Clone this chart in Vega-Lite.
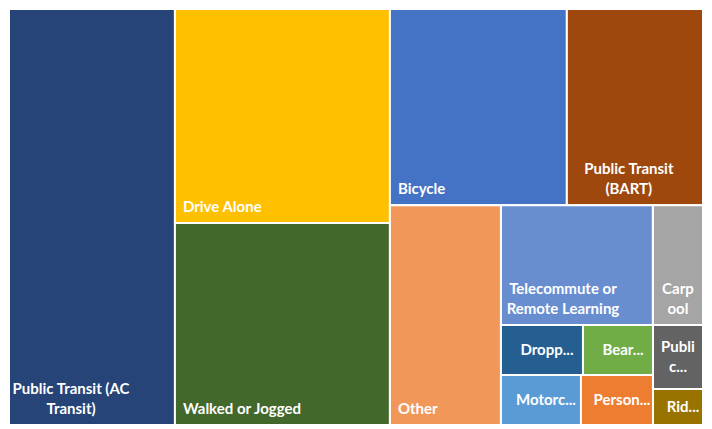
{
  "$schema": "https://vega.github.io/schema/vega-lite/v6.json",
  "width": 694,
  "height": 416,
  "padding": {"left": 8, "top": 8, "right": 10, "bottom": 5},
  "background": "white",
  "config": {"view": {"stroke": null}, "text": {"color": "white", "font": "Lato", "fontWeight": "bold", "fontSize": 15, "lineHeight": 20, "baseline": "alphabetic"}},
  "data": {
    "values": [
      {"mode": "Public Transit (AC Transit)", "label": ["Public Transit (AC", "Transit)"], "count": 690, "p1": "A", "p2": "AC", "p3": "AC", "p4": "AC", "p5": "AC", "p6": "AC", "p7": "AC"},
      {"mode": "Drive Alone", "label": ["Drive Alone"], "count": 460, "p1": "B", "p2": "Drive", "p3": "Drive", "p4": "Drive", "p5": "Drive", "p6": "Drive", "p7": "Drive"},
      {"mode": "Walked or Jogged", "label": ["Walked or Jogged"], "count": 434, "p1": "B", "p2": "Walked", "p3": "Walked", "p4": "Walked", "p5": "Walked", "p6": "Walked", "p7": "Walked"},
      {"mode": "Bicycle", "label": ["Bicycle"], "count": 347, "p1": "C", "p2": "C1", "p3": "Bicycle", "p4": "Bicycle", "p5": "Bicycle", "p6": "Bicycle", "p7": "Bicycle"},
      {"mode": "Public Transit (BART)", "label": ["Public Transit", "(BART)"], "count": 267, "p1": "C", "p2": "C1", "p3": "BART", "p4": "BART", "p5": "BART", "p6": "BART", "p7": "BART"},
      {"mode": "Other", "label": ["Other"], "count": 244, "p1": "C", "p2": "C2", "p3": "Other", "p4": "Other", "p5": "Other", "p6": "Other", "p7": "Other"},
      {"mode": "Telecommute or Remote Learning", "label": ["Telecommute or", "Remote Learning"], "count": 182, "p1": "C", "p2": "C2", "p3": "D", "p4": "D1", "p5": "Tele", "p6": "Tele", "p7": "Tele"},
      {"mode": "Carpool", "label": ["Carp", "ool"], "count": 60, "p1": "C", "p2": "C2", "p3": "D", "p4": "D1", "p5": "Carpool", "p6": "Carpool", "p7": "Carpool"},
      {"mode": "Dropp...", "label": ["Dropp..."], "count": 41, "p1": "C", "p2": "C2", "p3": "D", "p4": "D2", "p5": "E", "p6": "E1", "p7": "Dropp"},
      {"mode": "Bear...", "label": ["Bear..."], "count": 35, "p1": "C", "p2": "C2", "p3": "D", "p4": "D2", "p5": "E", "p6": "E1", "p7": "Bear"},
      {"mode": "Motorc...", "label": ["Motorc..."], "count": 40, "p1": "C", "p2": "C2", "p3": "D", "p4": "D2", "p5": "E", "p6": "E2", "p7": "Motorc"},
      {"mode": "Person...", "label": ["Person..."], "count": 36, "p1": "C", "p2": "C2", "p3": "D", "p4": "D2", "p5": "E", "p6": "E2", "p7": "Person"},
      {"mode": "Publi c...", "label": ["Publi", "c..."], "count": 32, "p1": "C", "p2": "C2", "p3": "D", "p4": "D2", "p5": "F", "p6": "Publi", "p7": "Publi"},
      {"mode": "Rid...", "label": ["Rid..."], "count": 18, "p1": "C", "p2": "C2", "p3": "D", "p4": "D2", "p5": "F", "p6": "Rid", "p7": "Rid"}
    ]
  },
  "transform": [
    {"joinaggregate": [{"op": "max", "field": "count", "as": "m1"}], "groupby": ["p1"]},
    {"stack": "count", "groupby": [], "sort": [{"field": "m1", "order": "descending"}, {"field": "p1", "order": "ascending"}], "offset": "normalize", "as": ["s1", "e1"]},
    {"joinaggregate": [{"op": "min", "field": "s1", "as": "a1"}, {"op": "max", "field": "e1", "as": "b1"}], "groupby": ["p1"]},

    {"joinaggregate": [{"op": "max", "field": "count", "as": "m2"}], "groupby": ["p1", "p2"]},
    {"stack": "count", "groupby": ["p1"], "sort": [{"field": "m2", "order": "descending"}, {"field": "p2", "order": "ascending"}], "offset": "normalize", "as": ["s2", "e2"]},
    {"joinaggregate": [{"op": "min", "field": "s2", "as": "a2"}, {"op": "max", "field": "e2", "as": "b2"}], "groupby": ["p1", "p2"]},

    {"joinaggregate": [{"op": "max", "field": "count", "as": "m3"}], "groupby": ["p1", "p2", "p3"]},
    {"stack": "count", "groupby": ["p1", "p2"], "sort": [{"field": "m3", "order": "descending"}, {"field": "p3", "order": "ascending"}], "offset": "normalize", "as": ["s3", "e3"]},
    {"joinaggregate": [{"op": "min", "field": "s3", "as": "a3"}, {"op": "max", "field": "e3", "as": "b3"}], "groupby": ["p1", "p2", "p3"]},

    {"joinaggregate": [{"op": "max", "field": "count", "as": "m4"}], "groupby": ["p1", "p2", "p3", "p4"]},
    {"stack": "count", "groupby": ["p1", "p2", "p3"], "sort": [{"field": "m4", "order": "descending"}, {"field": "p4", "order": "ascending"}], "offset": "normalize", "as": ["s4", "e4"]},
    {"joinaggregate": [{"op": "min", "field": "s4", "as": "a4"}, {"op": "max", "field": "e4", "as": "b4"}], "groupby": ["p1", "p2", "p3", "p4"]},

    {"joinaggregate": [{"op": "max", "field": "count", "as": "m5"}], "groupby": ["p1", "p2", "p3", "p4", "p5"]},
    {"stack": "count", "groupby": ["p1", "p2", "p3", "p4"], "sort": [{"field": "m5", "order": "descending"}, {"field": "p5", "order": "ascending"}], "offset": "normalize", "as": ["s5", "e5"]},
    {"joinaggregate": [{"op": "min", "field": "s5", "as": "a5"}, {"op": "max", "field": "e5", "as": "b5"}], "groupby": ["p1", "p2", "p3", "p4", "p5"]},

    {"joinaggregate": [{"op": "max", "field": "count", "as": "m6"}], "groupby": ["p1", "p2", "p3", "p4", "p5", "p6"]},
    {"stack": "count", "groupby": ["p1", "p2", "p3", "p4", "p5"], "sort": [{"field": "m6", "order": "descending"}, {"field": "p6", "order": "ascending"}], "offset": "normalize", "as": ["s6", "e6"]},
    {"joinaggregate": [{"op": "min", "field": "s6", "as": "a6"}, {"op": "max", "field": "e6", "as": "b6"}], "groupby": ["p1", "p2", "p3", "p4", "p5", "p6"]},

    {"joinaggregate": [{"op": "max", "field": "count", "as": "m7"}], "groupby": ["p1", "p2", "p3", "p4", "p5", "p6", "p7"]},
    {"stack": "count", "groupby": ["p1", "p2", "p3", "p4", "p5", "p6"], "sort": [{"field": "m7", "order": "descending"}, {"field": "p7", "order": "ascending"}], "offset": "normalize", "as": ["s7", "e7"]},
    {"joinaggregate": [{"op": "min", "field": "s7", "as": "a7"}, {"op": "max", "field": "e7", "as": "b7"}], "groupby": ["p1", "p2", "p3", "p4", "p5", "p6", "p7"]},

    {"calculate": "datum.a1 + (datum.b1 - datum.a1) * (datum.a3 + (datum.b3 - datum.a3) * (datum.a5 + (datum.b5 - datum.a5) * datum.a7))", "as": "X0"},
    {"calculate": "datum.a1 + (datum.b1 - datum.a1) * (datum.a3 + (datum.b3 - datum.a3) * (datum.a5 + (datum.b5 - datum.a5) * datum.b7))", "as": "X1"},
    {"calculate": "datum.a2 + (datum.b2 - datum.a2) * (datum.a4 + (datum.b4 - datum.a4) * datum.a6)", "as": "Y0"},
    {"calculate": "datum.a2 + (datum.b2 - datum.a2) * (datum.a4 + (datum.b4 - datum.a4) * datum.b6)", "as": "Y1"},
    {"calculate": "(datum.X0 + datum.X1) / 2", "as": "Xm"},
    {"calculate": "(datum.Y0 + datum.Y1) / 2", "as": "Ym"},
    {"calculate": "(datum.X1 - datum.X0) < 0.13", "as": "narrow"},
    {"calculate": "(datum.Y1 - datum.Y0) < 0.17", "as": "short"},
    {"calculate": "length(datum.label)", "as": "nlines"}
  ],
  "encoding": {
    "x": {"field": "X0", "type": "quantitative", "scale": {"domain": [0, 1], "nice": false, "zero": false}, "axis": null},
    "y": {"field": "Y1", "type": "quantitative", "scale": {"domain": [0, 1], "nice": false, "zero": false, "reverse": true}, "axis": null}
  },
  "layer": [
    {
      "mark": {"type": "rect", "stroke": "white", "strokeWidth": 2},
      "encoding": {
        "x2": {"field": "X1"},
        "y": {"field": "Y0", "type": "quantitative", "scale": {"domain": [0, 1], "nice": false, "zero": false, "reverse": true}, "axis": null},
        "y2": {"field": "Y1"},
        "color": {
          "field": "mode", "type": "nominal", "legend": null,
          "scale": {
            "domain": ["Public Transit (AC Transit)", "Drive Alone", "Walked or Jogged", "Bicycle", "Public Transit (BART)", "Other", "Telecommute or Remote Learning", "Carpool", "Dropp...", "Bear...", "Motorc...", "Person...", "Publi c...", "Rid..."],
            "range": ["#264478", "#FFC000", "#43682B", "#4472C4", "#9E480E", "#F1975A", "#698ED0", "#A5A5A5", "#255E91", "#70AD47", "#5B9BD5", "#ED7D31", "#636363", "#997300"]
          }
        }
      }
    },
    {
      "transform": [{"filter": "!datum.narrow && datum.nlines == 1"}],
      "mark": {"type": "text", "align": "left", "dx": 8, "dy": -11},
      "encoding": {"text": {"field": "label", "type": "nominal"}}
    },
    {
      "transform": [{"filter": "!datum.narrow && datum.nlines == 2"}],
      "mark": {"type": "text", "align": "center", "dx": 62, "dy": -31},
      "encoding": {"text": {"field": "label", "type": "nominal"}}
    },
    {
      "transform": [{"filter": "datum.narrow && !datum.short"}],
      "mark": {"type": "text", "align": "center", "dy": -31},
      "encoding": {
        "x": {"field": "Xm", "type": "quantitative"},
        "text": {"field": "label", "type": "nominal"}
      }
    },
    {
      "transform": [{"filter": "datum.narrow && datum.short && datum.nlines == 1"}],
      "mark": {"type": "text", "align": "center", "dx": 5, "dy": 5},
      "encoding": {
        "x": {"field": "Xm", "type": "quantitative"},
        "y": {"field": "Ym", "type": "quantitative"},
        "text": {"field": "label", "type": "nominal"}
      }
    },
    {
      "transform": [{"filter": "datum.narrow && datum.short && datum.nlines == 2"}],
      "mark": {"type": "text", "align": "center", "dy": -5},
      "encoding": {
        "x": {"field": "Xm", "type": "quantitative"},
        "y": {"field": "Ym", "type": "quantitative"},
        "text": {"field": "label", "type": "nominal"}
      }
    }
  ]
}
